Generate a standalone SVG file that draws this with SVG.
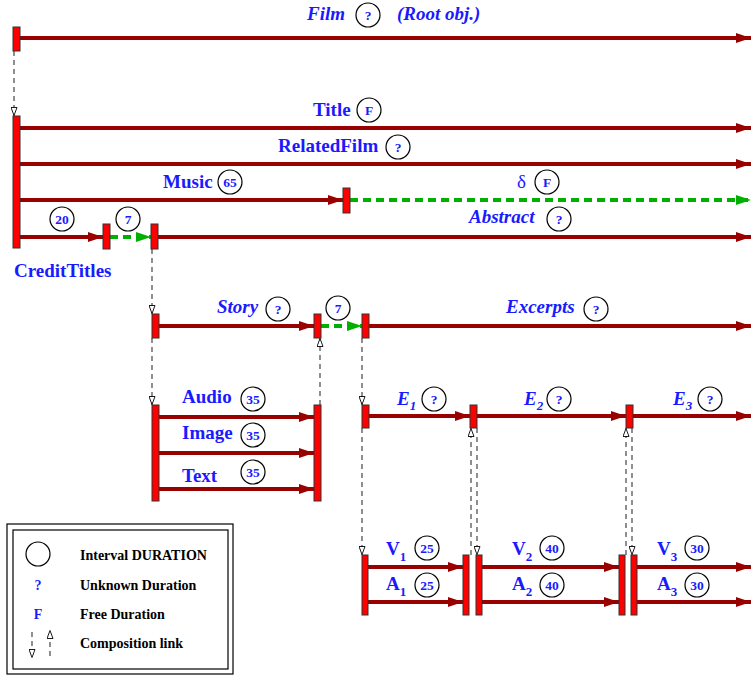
<svg xmlns="http://www.w3.org/2000/svg" width="751" height="675" viewBox="0 0 751 675">
<style>
.ln{stroke:#990000;stroke-width:4;fill:none;marker-end:url(#ar)}
.gr{stroke:#00b000;stroke-width:4;fill:none;stroke-dasharray:8 5;marker-end:url(#ag)}
.bar{fill:#ff0000;stroke:#333;stroke-width:1}
.lk{stroke:#333;stroke-width:1.1;fill:none;stroke-dasharray:5 4;marker-end:url(#oa)}
.lb{font-family:"Liberation Serif",serif;font-weight:bold;font-size:19px;fill:#1a1aff}
.it{font-style:italic}
.sub{font-size:13px}
.c{fill:#fff;stroke:#000;stroke-width:1.2}
.ct{font-family:"Liberation Serif",serif;font-weight:bold;font-size:13.5px;fill:#1a1aff;text-anchor:middle}
.lg{font-family:"Liberation Serif",serif;font-weight:bold;font-size:14px;fill:#000}
</style>
<defs>
<marker id="ar" viewBox="0 0 15 10" refX="15" refY="5" markerWidth="15" markerHeight="10" markerUnits="userSpaceOnUse" orient="auto"><path d="M0,0 L15,5 L0,10 z" fill="#990000"/></marker>
<marker id="ag" viewBox="0 0 15 10" refX="15" refY="5" markerWidth="15" markerHeight="10" markerUnits="userSpaceOnUse" orient="auto"><path d="M0,0 L15,5 L0,10 z" fill="#00b000"/></marker>
<marker id="oa" viewBox="0 0 9 7" refX="9" refY="3.5" markerWidth="9" markerHeight="7" markerUnits="userSpaceOnUse" orient="auto"><path d="M0.5,0.5 L8.5,3.5 L0.5,6.5 z" fill="#fff" stroke="#000" stroke-width="0.9"/></marker>
</defs>

<g id="connectors">
<line class="ln" x1="20" y1="38" x2="751" y2="38"/>
<line class="ln" x1="20" y1="128" x2="751" y2="128"/>
<line class="ln" x1="20" y1="164" x2="751" y2="164"/>
<line class="ln" x1="20" y1="200" x2="343" y2="200"/>
<line class="gr" x1="350" y1="200" x2="751" y2="200"/>
<line class="ln" x1="20" y1="237" x2="103" y2="237"/>
<line class="gr" x1="110" y1="237" x2="151" y2="237"/>
<line class="ln" x1="158" y1="237" x2="751" y2="237"/>
<line class="ln" x1="159" y1="326" x2="314" y2="326"/>
<line class="gr" x1="321" y1="326" x2="362" y2="326"/>
<line class="ln" x1="369" y1="326" x2="751" y2="326"/>
<line class="ln" x1="159" y1="417" x2="314" y2="417"/>
<line class="ln" x1="159" y1="453" x2="314" y2="453"/>
<line class="ln" x1="159" y1="489" x2="314" y2="489"/>
<line class="ln" x1="369" y1="416" x2="470" y2="416"/>
<line class="ln" x1="477" y1="416" x2="626" y2="416"/>
<line class="ln" x1="633" y1="416" x2="751" y2="416"/>
<line class="ln" x1="368" y1="567" x2="463" y2="567"/>
<line class="ln" x1="368" y1="602" x2="463" y2="602"/>
<line class="ln" x1="482" y1="567" x2="619" y2="567"/>
<line class="ln" x1="482" y1="602" x2="619" y2="602"/>
<line class="ln" x1="637" y1="567" x2="751" y2="567"/>
<line class="ln" x1="637" y1="602" x2="751" y2="602"/>
<line class="lk" x1="14" y1="51" x2="14" y2="116"/>
<line class="lk" x1="152" y1="249" x2="152" y2="314"/>
<line class="lk" x1="152" y1="338" x2="152" y2="405"/>
<line class="lk" x1="320" y1="405" x2="320" y2="338"/>
<line class="lk" x1="362" y1="338" x2="362" y2="405"/>
<line class="lk" x1="362" y1="428" x2="362" y2="555"/>
<line class="lk" x1="471" y1="555" x2="471" y2="428"/>
<line class="lk" x1="477" y1="428" x2="477" y2="555"/>
<line class="lk" x1="626" y1="555" x2="626" y2="428"/>
<line class="lk" x1="632" y1="428" x2="632" y2="555"/>
</g>

<g id="film">
<rect class="bar" x="13" y="27" width="7" height="24"/>
<text class="lb it" x="307" y="20">Film</text>
<circle class="c" cx="368" cy="15" r="12"/><text class="ct" x="368" y="20">?</text>
<text class="lb it" x="397" y="20">(Root obj.)</text>
</g>

<g id="credittitles">
<rect class="bar" x="13" y="116" width="7" height="132"/>
<text class="lb" x="14" y="277">CreditTitles</text>
</g>

<g id="title">
<text class="lb" x="313" y="116">Title</text>
<circle class="c" cx="369" cy="110" r="12"/><text class="ct" x="369" y="115">F</text>
</g>

<g id="relatedfilm">
<text class="lb" x="278" y="152">RelatedFilm</text>
<circle class="c" cx="398" cy="147" r="12"/><text class="ct" x="398" y="152">?</text>
</g>

<g id="music">
<text class="lb" x="163" y="188">Music</text>
<circle class="c" cx="230" cy="182" r="12"/><text class="ct" x="230" y="187">65</text>
<rect class="bar" x="343" y="188" width="7" height="25"/>
</g>

<g id="delta">
<text class="lb" x="517" y="188" style="font-weight:normal">δ</text>
<circle class="c" cx="547" cy="182" r="12"/><text class="ct" x="547" y="187">F</text>
</g>

<g id="abstract">
<circle class="c" cx="62" cy="219" r="12"/><text class="ct" x="62" y="224">20</text>
<rect class="bar" x="103" y="224" width="7" height="25"/>
<circle class="c" cx="128" cy="219" r="12"/><text class="ct" x="128" y="224">7</text>
<rect class="bar" x="151" y="224" width="7" height="25"/>
<text class="lb it" x="469" y="223">Abstract</text>
<circle class="c" cx="559" cy="219" r="12"/><text class="ct" x="559" y="224">?</text>
</g>

<g id="story">
<rect class="bar" x="152" y="314" width="7" height="24"/>
<text class="lb it" x="217" y="313">Story</text>
<circle class="c" cx="278" cy="309" r="12"/><text class="ct" x="278" y="314">?</text>
<rect class="bar" x="314" y="314" width="7" height="24"/>
<circle class="c" cx="338" cy="308" r="12"/><text class="ct" x="338" y="313">7</text>
</g>

<g id="excerpts">
<rect class="bar" x="362" y="314" width="7" height="24"/>
<text class="lb it" x="506" y="313">Excerpts</text>
<circle class="c" cx="596" cy="309" r="12"/><text class="ct" x="596" y="314">?</text>
</g>

<g id="media">
<rect class="bar" x="152" y="405" width="7" height="96"/>
<rect class="bar" x="314" y="405" width="7" height="96"/>
<text class="lb" x="182" y="403">Audio</text>
<circle class="c" cx="253" cy="399" r="12"/><text class="ct" x="253" y="404">35</text>
<text class="lb" x="182" y="439">Image</text>
<circle class="c" cx="253" cy="435" r="12"/><text class="ct" x="253" y="440">35</text>
<text class="lb" x="182" y="482">Text</text>
<circle class="c" cx="253" cy="472" r="12"/><text class="ct" x="253" y="477">35</text>
</g>

<g id="e-row">
<rect class="bar" x="362" y="405" width="7" height="23"/>
<rect class="bar" x="470" y="405" width="7" height="23"/>
<rect class="bar" x="626" y="405" width="7" height="23"/>
<text class="lb it" x="397" y="405">E<tspan class="sub" dy="5">1</tspan></text>
<circle class="c" cx="434" cy="399" r="12"/><text class="ct" x="434" y="404">?</text>
<text class="lb it" x="524" y="405">E<tspan class="sub" dy="5">2</tspan></text>
<circle class="c" cx="559" cy="399" r="12"/><text class="ct" x="559" y="404">?</text>
<text class="lb it" x="673" y="405">E<tspan class="sub" dy="5">3</tspan></text>
<circle class="c" cx="710" cy="399" r="12"/><text class="ct" x="710" y="404">?</text>
</g>

<g id="va-row">
<rect class="bar" x="362" y="555" width="6" height="60"/>
<rect class="bar" x="463" y="555" width="6" height="60"/>
<rect class="bar" x="476" y="555" width="6" height="60"/>
<rect class="bar" x="619" y="555" width="6" height="60"/>
<rect class="bar" x="631" y="555" width="6" height="60"/>
<text class="lb" x="386" y="555">V<tspan class="sub" dy="6">1</tspan></text>
<circle class="c" cx="427" cy="548" r="12"/><text class="ct" x="427" y="553">25</text>
<text class="lb" x="386" y="590">A<tspan class="sub" dy="6">1</tspan></text>
<circle class="c" cx="427" cy="585" r="12"/><text class="ct" x="427" y="590">25</text>
<text class="lb" x="512" y="555">V<tspan class="sub" dy="6">2</tspan></text>
<circle class="c" cx="552" cy="548" r="12"/><text class="ct" x="552" y="553">40</text>
<text class="lb" x="512" y="590">A<tspan class="sub" dy="6">2</tspan></text>
<circle class="c" cx="552" cy="585" r="12"/><text class="ct" x="552" y="590">40</text>
<text class="lb" x="657" y="555">V<tspan class="sub" dy="6">3</tspan></text>
<circle class="c" cx="697" cy="548" r="12"/><text class="ct" x="697" y="553">30</text>
<text class="lb" x="657" y="590">A<tspan class="sub" dy="6">3</tspan></text>
<circle class="c" cx="697" cy="585" r="12"/><text class="ct" x="697" y="590">30</text>
</g>

<g id="legend">
<rect x="7" y="524" width="226" height="150" fill="#fff" stroke="#000" stroke-width="1.2"/>
<rect x="13" y="530" width="215" height="139" fill="none" stroke="#000" stroke-width="1.2"/>
<circle cx="38" cy="554" r="12" fill="none" stroke="#000" stroke-width="1.2"/>
<text class="lg" x="80" y="560">Interval DURATION</text>
<text class="ct" x="38" y="590" style="font-size:14px">?</text>
<text class="lg" x="80" y="590">Unknown Duration</text>
<text class="ct" x="38" y="619" style="font-size:14px">F</text>
<text class="lg" x="80" y="619">Free Duration</text>
<line class="lk" x1="32" y1="632" x2="32" y2="658"/>
<line class="lk" x1="50" y1="656" x2="50" y2="630"/>
<text class="lg" x="80" y="648">Composition link</text>
</g>
</svg>
